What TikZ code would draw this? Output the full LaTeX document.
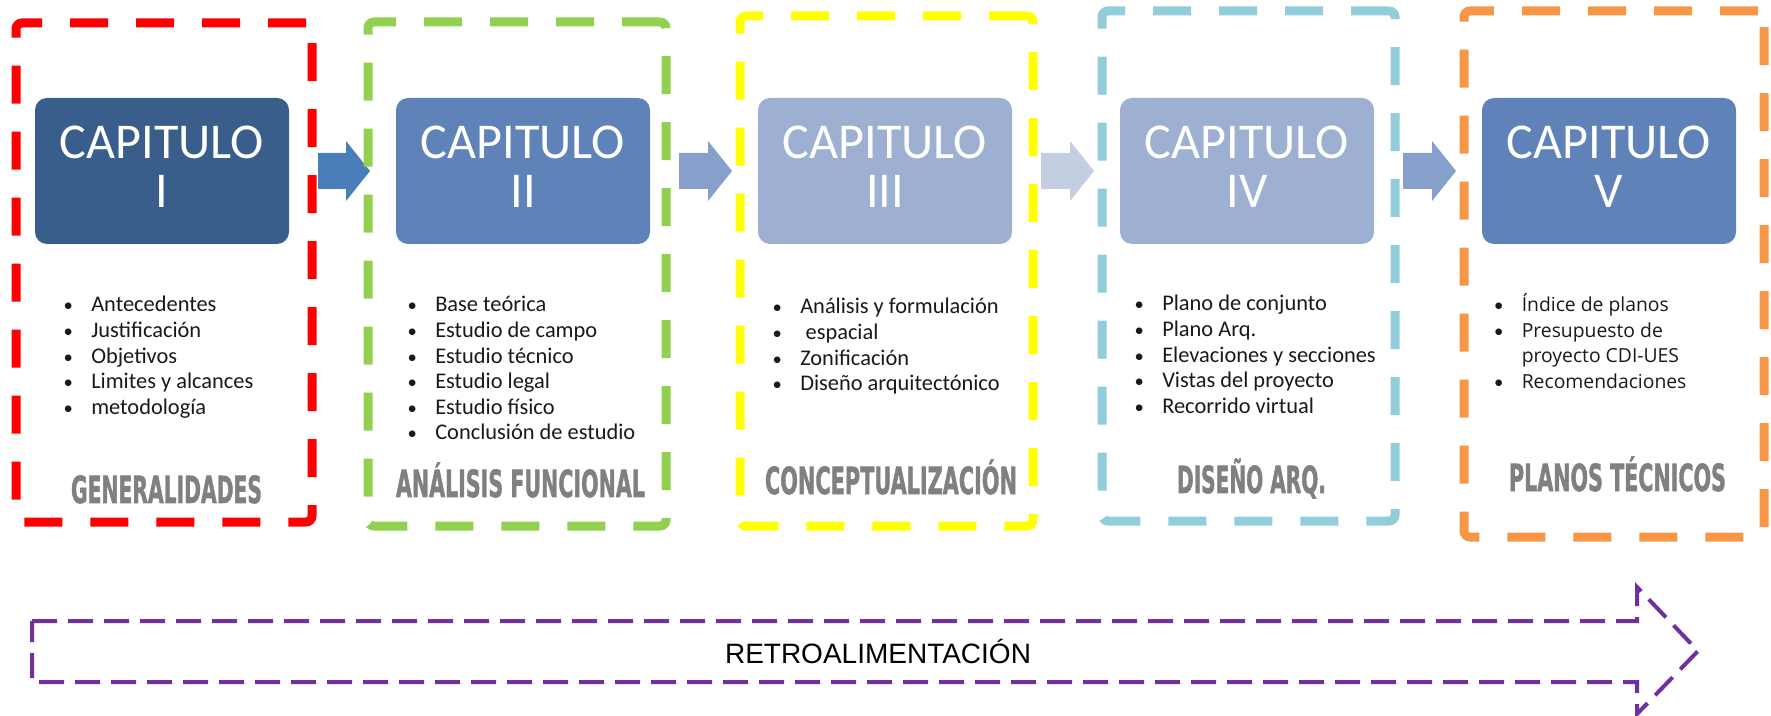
\documentclass[tikz,border=0pt]{standalone}
\usepackage{fontspec}
\usepackage{graphicx}
\setmainfont{Carlito}
\newfontfamily\segoe{Open Sans}
\newfontfamily\arialf{Liberation Sans}
\newfontfamily\lblfont[FakeBold=1.6]{DejaVu Sans Condensed Bold}
\usetikzlibrary{calc}
\definecolor{chA}{RGB}{57,94,139}
\definecolor{chB}{RGB}{95,130,184}
\definecolor{chC}{RGB}{157,176,210}
\definecolor{arA}{RGB}{74,126,187}
\definecolor{arB}{RGB}{135,160,203}
\definecolor{arC}{RGB}{195,206,226}
\definecolor{frRed}{RGB}{255,0,0}
\definecolor{frGreen}{RGB}{146,208,80}
\definecolor{frYellow}{RGB}{255,255,0}
\definecolor{frBlue}{RGB}{146,205,220}
\definecolor{frOrange}{RGB}{247,150,70}
\definecolor{fbPurple}{RGB}{112,48,160}
\definecolor{lblgray}{RGB}{128,128,128}
\definecolor{listtext}{RGB}{25,25,25}
\newcommand\bitem[1]{\llap{\makebox[34.5pt]{\rmfamily\fontsize{14pt}{19.2pt}\selectfont •}}#1}
\newcommand\blockarrow[4]{%
  \coordinate (#4s) at ($(#1.east)+(29,0)$);
  \coordinate (#4t) at ($(#2.west)+(-26,0)$);
  \fill[#3] ($(#4s)+(0,-18)$) -- ($(#4t)+(-24,-18)$) -- ($(#4t)+(-24,-30)$) -- (#4t)
    -- ($(#4t)+(-24,30)$) -- ($(#4t)+(-24,18)$) -- ($(#4s)+(0,18)$) -- cycle;}
\tikzset{
  chap/.style={rounded corners=9pt, minimum width=190.5pt, minimum height=109.5pt,
    inner sep=0pt, outer sep=0pt},
  chaptext/.style={inner sep=0pt, text=white, align=center,
    font=\fontsize{37.6pt}{37pt}\selectfont},
  dframe/.style={draw=#1, line width=6.75pt, dash pattern=on 28.5pt off 21pt,
    rounded corners=4.5pt, inner sep=0pt, outer sep=0pt},
  lst/.style={anchor=base west, inner sep=0pt, text=listtext,
    font=\fontsize{16.8pt}{19.2pt}\selectfont},
  lstv/.style={anchor=base west, inner sep=0pt, text=listtext,
    font=\segoe\fontsize{14.5pt}{19.1pt}\selectfont},
  lbl/.style={anchor=base, inner sep=0pt, text=lblgray,
    font=\lblfont\fontsize{28pt}{32pt}\selectfont},
}
\begin{document}
\begin{tikzpicture}[x=0.75pt, y=-0.75pt]
\useasboundingbox (0,0) rectangle (1771,716);

% chapter boxes
\node[chap, fill=chA] (c1) at (162,171) {};
\node[chap, fill=chB] (c2) at (523,171) {};
\node[chap, fill=chC] (c3) at (885,171) {};
\node[chap, fill=chC] (c4) at (1247,171) {};
\node[chap, fill=chB] (c5) at (1609,171) {};
\node[chaptext] (c1t) at ($(c1)+(0,-4)$) {CAPITULO\\I};
\node[chaptext] (c2t) at ($(c2)+(0,-4)$) {CAPITULO\\II};
\node[chaptext] (c3t) at ($(c3)+(0,-4)$) {CAPITULO\\III};
\node[chaptext] (c4t) at ($(c4)+(0,-4)$) {CAPITULO\\IV};
\node[chaptext] (c5t) at ($(c5)+(0,-4)$) {CAPITULO\\V};

% block arrows
\blockarrow{c1}{c2}{arA}{a1}
\blockarrow{c2}{c3}{arB}{a2}
\blockarrow{c3}{c4}{arC}{a3}
\blockarrow{c4}{c5}{arB}{a4}

% dashed frames
\node[dframe=frRed, minimum width=222pt, minimum height=374.25pt] (f1) at (164,272.5) {};
\node[dframe=frGreen, minimum width=223.5pt, minimum height=378pt] (f2) at (517,274) {};
\node[dframe=frYellow, minimum width=219.75pt, minimum height=382.5pt] (f3) at (886.5,271) {};
\node[dframe=frBlue, minimum width=219.75pt, minimum height=382.5pt] (f4) at (1248.5,266) {};
\node[dframe=frOrange, minimum width=225pt, minimum height=394.5pt] (f5) at (1614,274) {};

% lists
\node[lst] (t1) at (91,312) {\begin{tabular}[t]{@{}l@{}}
\bitem{Antecedentes}\\ \bitem{Justificación}\\ \bitem{Objetivos}\\
\bitem{Limites y alcances}\\ \bitem{metodología}\end{tabular}};
\node[lst] (t2) at (435,312) {\begin{tabular}[t]{@{}l@{}}
\bitem{Base teórica}\\ \bitem{Estudio de campo}\\ \bitem{Estudio técnico}\\
\bitem{Estudio legal}\\ \bitem{Estudio físico}\\ \bitem{Conclusión de estudio}\end{tabular}};
\node[lst] (t3) at (800,314) {\begin{tabular}[t]{@{}l@{}}
\bitem{Análisis y formulación}\\ \bitem{\hspace*{4pt}espacial}\\ \bitem{Zonificación}\\
\bitem{Diseño arquitectónico}\end{tabular}};
\node[lst] (t4) at (1162,311) {\begin{tabular}[t]{@{}l@{}}
\bitem{Plano de conjunto}\\ \bitem{Plano Arq.}\\ \bitem{Elevaciones y secciones}\\
\bitem{Vistas del proyecto}\\ \bitem{Recorrido virtual}\end{tabular}};
\node[lstv] (t5) at (1521.5,312) {\begin{tabular}[t]{@{}l@{}}
\bitem{Índice de planos}\\ \bitem{Presupuesto de}\\ proyecto CDI-UES\\
\bitem{Recomendaciones}\end{tabular}};

% phase labels
\node[lbl] (l1) at (166.5,503) {\resizebox{143.25pt}{\height}{GENERALIDADES}};
\node[lbl] (l2) at (520.5,497) {\resizebox{186.75pt}{\height}{ANÁLISIS FUNCIONAL}};
\node[lbl] (l3) at (891,494) {\resizebox{189pt}{\height}{CONCEPTUALIZACIÓN}};
\node[lbl] (l4) at (1251.5,493) {\resizebox{111.75pt}{\height}{DISEÑO ARQ.}};
\node[lbl] (l5) at (1617.5,491) {\resizebox{162.75pt}{\height}{PLANOS TÉCNICOS}};

% feedback arrow
\draw[fbPurple, line width=3pt, dash pattern=on 18.75pt off 8.25pt, line join=miter]
  (32,621) -- (1637,621) -- (1637,587) -- (1698,651) -- (1637,714) -- (1637,682) -- (32,682) -- cycle;
\node[anchor=base, inner sep=0pt, font=\arialf\fontsize{21pt}{25pt}\selectfont] (fb) at (878,663) {RETROALIMENTACIÓN};
\end{tikzpicture}
\end{document}
